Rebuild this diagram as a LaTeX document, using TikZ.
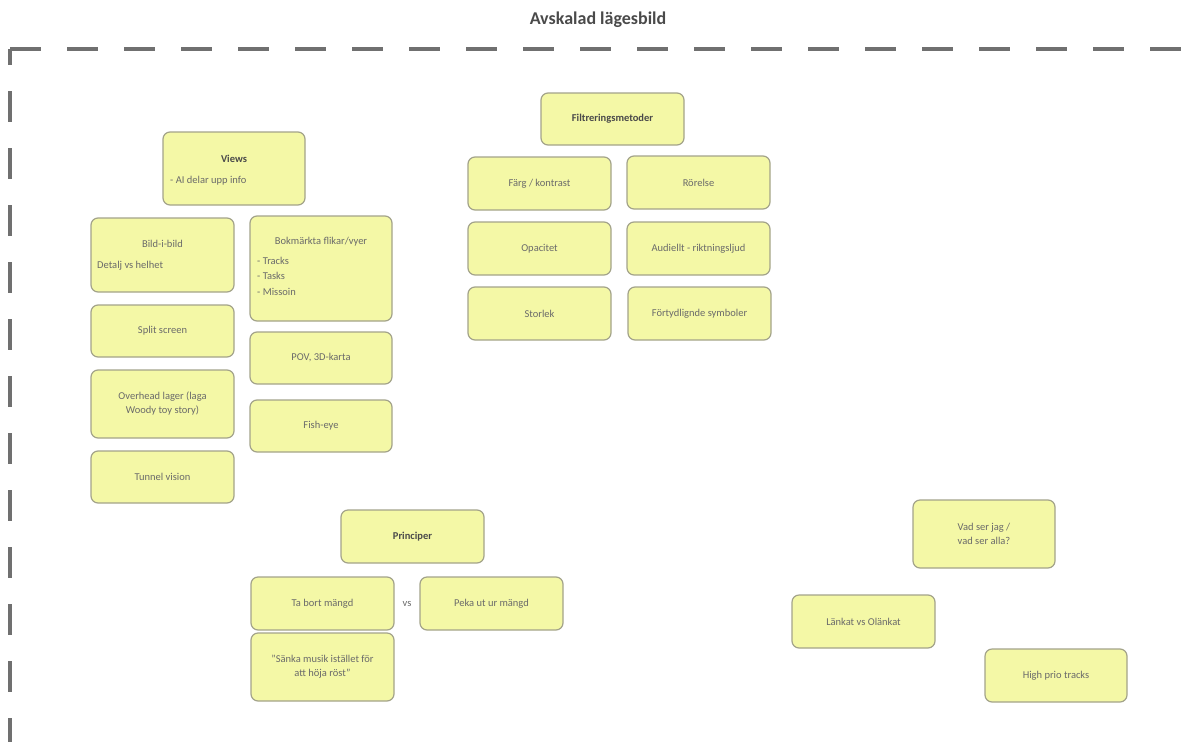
\documentclass[tikz,border=0pt]{standalone}
\usepackage{fontspec}
\setmainfont{Carlito}
\definecolor{boxfill}{HTML}{F4F8A6}
\definecolor{boxline}{HTML}{A3A38A}
\definecolor{txt}{HTML}{6A6A6A}
\definecolor{hdr}{HTML}{4A4A4A}
\definecolor{frame}{HTML}{707070}
\tikzset{
  note/.style={draw=boxline, fill=boxfill, rounded corners=7pt, line width=1.2pt,
    inner sep=0pt, align=center, text=txt, font=\fontsize{10.5}{14}\selectfont},
  lbl/.style={inner sep=0pt, text=txt, font=\fontsize{10.5}{14}\selectfont, align=left},
  hd/.style={inner sep=0pt, text=hdr, font=\bfseries\fontsize{10.5}{14}\selectfont},
}
\begin{document}
\begin{tikzpicture}[x=1pt,y=-1pt]
\useasboundingbox (0,0) rectangle (1183,742);
% title
\node[inner sep=0pt, text=hdr, font=\bfseries\fontsize{18}{20}\selectfont] (title) at (598,20) {Avskalad lägesbild};
% dashed frame
\coordinate (c) at (10,49);
\coordinate (r) at (1183,49);
\coordinate (b) at (10,742);
\draw[frame, line width=3.1pt, dash pattern=on 31pt off 26pt] (c) -- (r);
\draw[frame, line width=3.1pt, dash pattern=on 31pt off 26pt, dash phase=15pt] (c) -- (b);

% Views group
\node[note, minimum width=142pt, minimum height=73pt] (views) at (234,168.5) {};
\node[hd] (viewsh) at (234,159) {Views};
\node[lbl, anchor=west] (viewst) at (170,181) {- AI delar upp info};

\node[note, minimum width=143pt, minimum height=74pt] (bib) at (162.5,255) {};
\node[lbl] (bibh) at (162.5,244) {Bild-i-bild};
\node[lbl, anchor=west] (bibt) at (97,266) {Detalj vs helhet};

\node[note, minimum width=142pt, minimum height=105pt] (bok) at (321,268.5) {};
\node[lbl] (bokh) at (321,242) {Bokmärkta flikar/vyer};
\node[lbl, anchor=north west, font=\fontsize{10.5}{15.5}\selectfont] (bokt) at (257,257) {- Tracks\\- Tasks\\- Missoin};

\node[note, minimum width=143pt, minimum height=52pt] (split) at (162.5,331) {Split screen};
\node[note, minimum width=142pt, minimum height=52pt] (pov) at (321,358) {POV, 3D-karta};
\node[note, minimum width=143pt, minimum height=68pt] (over) at (162.5,404) {Overhead lager (laga\\Woody toy story)};
\node[note, minimum width=142pt, minimum height=52pt] (fish) at (321,426) {Fish-eye};
\node[note, minimum width=143pt, minimum height=52pt] (tunnel) at (162.5,477) {Tunnel vision};

% Filtreringsmetoder group
\node[note, minimum width=143pt, minimum height=52pt, text=hdr, font=\bfseries\fontsize{10.5}{14}\selectfont] (filt) at (612.5,119) {Filtreringsmetoder};
\node[note, minimum width=143pt, minimum height=53pt] (farg) at (539.5,183.5) {Färg / kontrast};
\node[note, minimum width=143pt, minimum height=53pt] (ror) at (698.5,182.5) {Rörelse};
\node[note, minimum width=143pt, minimum height=53pt] (opac) at (539.5,248.5) {Opacitet};
\node[note, minimum width=143pt, minimum height=53pt] (aud) at (698.5,248.5) {Audiellt - riktningsljud};
\node[note, minimum width=143pt, minimum height=53pt] (stor) at (539.5,313.5) {Storlek};
\node[note, minimum width=143pt, minimum height=53pt] (fort) at (699.5,313.5) {Förtydlignde symboler};

% Principer group
\node[note, minimum width=143pt, minimum height=53pt, text=hdr, font=\bfseries\fontsize{10.5}{14}\selectfont] (princ) at (412.5,536.5) {Principer};
\node[note, minimum width=143pt, minimum height=53pt] (tabort) at (322.5,603.5) {Ta bort mängd};
\node[lbl] (vs) at (407,604) {vs};
\node[note, minimum width=143pt, minimum height=53pt] (peka) at (491.5,603.5) {Peka ut ur mängd};
\node[note, minimum width=143pt, minimum height=68pt] (sanka) at (322.5,667) {"Sänka musik istället för\\att höja röst"};

% right group
\node[note, minimum width=142pt, minimum height=68pt] (vad) at (984,534) {Vad ser jag /\\vad ser alla?};
\node[note, minimum width=143pt, minimum height=53pt] (lank) at (863.5,621.5) {Länkat vs Olänkat};
\node[note, minimum width=142pt, minimum height=53pt] (high) at (1056,675.5) {High prio tracks};
\end{tikzpicture}
\end{document}
